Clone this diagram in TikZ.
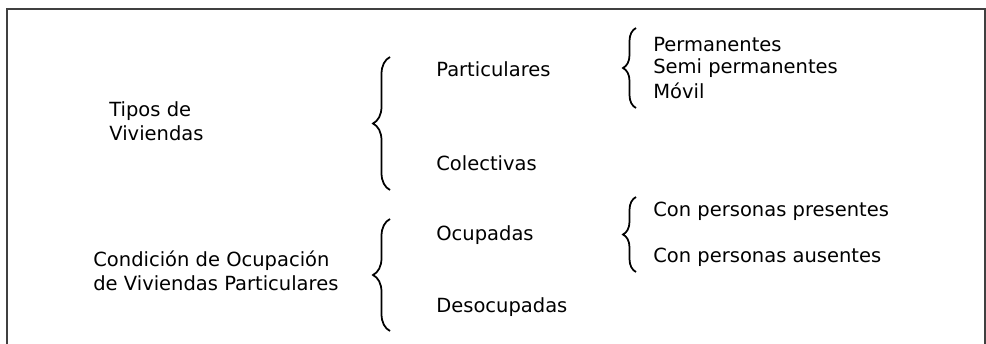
\documentclass[tikz,border=0pt]{standalone}
\usepackage{fontspec}
\setmainfont{DejaVu Sans}
\usetikzlibrary{decorations.pathreplacing}
\usetikzlibrary{positioning}
\tikzset{lbl/.style={anchor=west,inner sep=0pt,align=left,font=\fontsize{11.1}{13.4}\selectfont},
curly/.style={decorate,decoration={brace,amplitude=#1},line width=1pt},curly/.default=0.34cm}

\begin{document}
\begin{tikzpicture}[x=0.02cm, y=-0.02cm]
\useasboundingbox (0,0) rectangle (986,344);
% marco
\draw[line width=0.9pt, black!75] (7,350) -- (7,9) -- (985,9) -- (985,350);

% primer cuadro
\node (tipos) [lbl] at (109,121) {Tipos de\\Viviendas};
\node (part) [lbl] at (436,69) {Particulares};
\node (colec) [lbl] at (436,163) {Colectivas};
\foreach \n/\y/\t in {perm/45/Permanentes, semi/68/Semi permanentes, movil/91/Móvil} {
\node (\n) [lbl] at (653,\y) {\t};
}
\draw[curly] (390,190) -- (390,57);
\draw[curly=0.26cm] (636,108) -- (636,28);

% segundo cuadro
\node (cond) [lbl] at (93,271) {Condición de Ocupación\\de Viviendas Particulares};
\node (ocup) [lbl] at (436,235) {Ocupadas};
\node (desoc) [lbl] at (436,307) {Desocupadas};
\node (pres) [lbl] at (653,211) {Con personas presentes};
\node (aus) [lbl] at (653,257) {Con personas ausentes};
\draw[curly] (390,331) -- (390,219);
\draw[curly=0.26cm] (636,272) -- (636,197);
\end{tikzpicture}
\end{document}
